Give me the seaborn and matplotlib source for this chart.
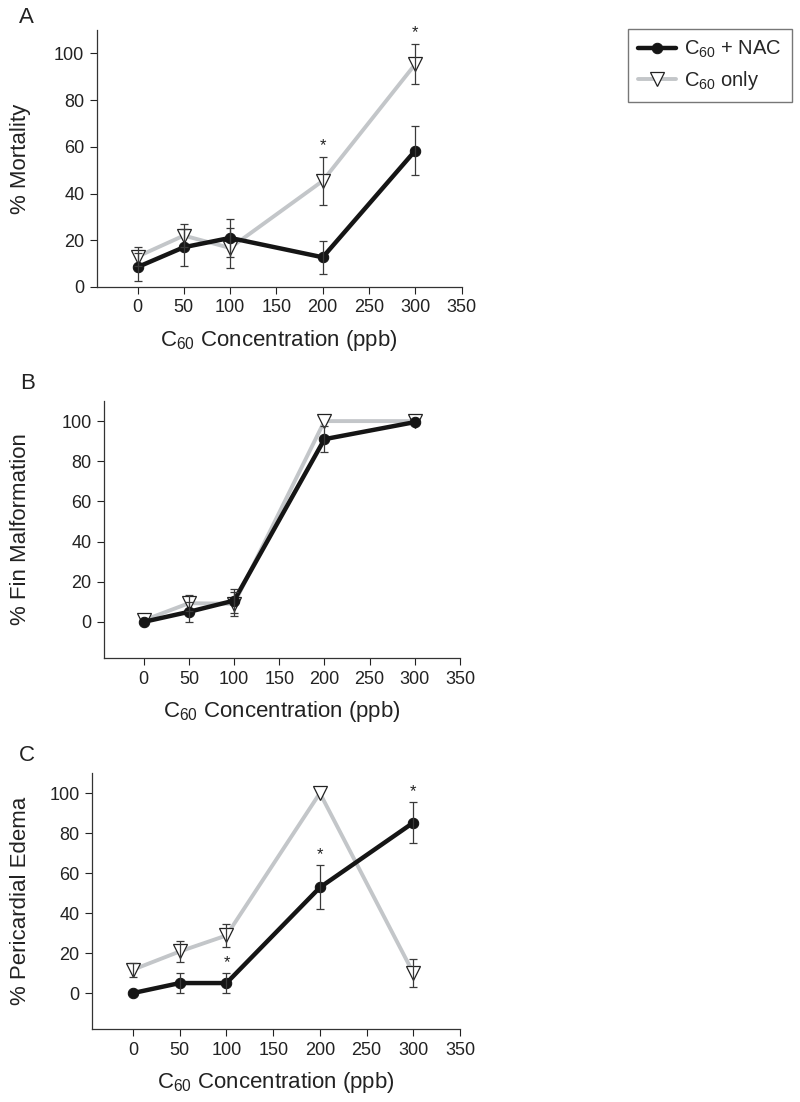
import matplotlib.pyplot as plt
import seaborn as sns
import pandas as pd
import numpy as np

sns.set_style('ticks')
plt.rcParams['font.family'] = ['Liberation Sans', 'DejaVu Sans']
plt.rcParams['mathtext.fontset'] = 'custom'
plt.rcParams['mathtext.rm'] = 'Liberation Sans'
plt.rcParams['mathtext.default'] = 'regular'

conc = [0, 50, 100, 200, 300]

# Panel A - mortality
mort_nac = [8.5, 17, 21, 12.7, 58.4]
mort_nac_err = [6, 8, 8.3, 7, 10.3]
mort_only = [13, 22, 16.7, 45.4, 95.4]
mort_only_err = [4, 5, 8.7, 10.4, 8.7]
mort_star_nac = [False, False, False, False, False]
mort_star_only = [False, False, False, True, True]

# Panel B - fin malformation
fin_nac = [0, 5, 10.6, 91, 99.5]
fin_nac_err = [0, 5, 6, 6.5, 0]
fin_only = [0.8, 9.3, 9, 100, 100]
fin_only_err = [0, 4, 6, 0, 0]
fin_star_nac = [False] * 5
fin_star_only = [False] * 5

# Panel C - pericardial edema
ede_nac = [0, 5, 5, 52.8, 85.2]
ede_nac_err = [0, 5, 5, 11, 10.4]
ede_only = [11.7, 20.8, 28.8, 100, 10]
ede_only_err = [3.5, 5.2, 5.7, 0, 7.2]
ede_star_nac = [False, False, True, True, True]
ede_star_only = [False] * 5

BLACK = '#151515'
GREY = '#c3c6c9'
ERR = '#3a3a3a'

fig = plt.figure(figsize=(8, 11.02), dpi=100)

panels = [
    ('A', '% Mortality', [0.121, 0.7396, 0.456, 0.2332], (0, 110),
     mort_nac, mort_nac_err, mort_only, mort_only_err, mort_star_nac, mort_star_only, (19, 7)),
    ('B', '% Fin Malformation', [0.130, 0.4029, 0.445, 0.2332], (-18, 110),
     fin_nac, fin_nac_err, fin_only, fin_only_err, fin_star_nac, fin_star_only, (20, 373)),
    ('C', '% Pericardial Edema', [0.115, 0.0662, 0.460, 0.2323], (-18, 110),
     ede_nac, ede_nac_err, ede_only, ede_only_err, ede_star_nac, ede_star_only, (19, 745)),
]

handles = None
for letter, ylab, pos, ylim, nac, nac_e, only, only_e, st_nac, st_only, lpos in panels:
    ax = fig.add_axes(pos)
    df_nac = pd.DataFrame({'conc': conc, 'pct': nac})
    df_only = pd.DataFrame({'conc': conc, 'pct': only})

    sns.lineplot(data=df_only, x='conc', y='pct', ax=ax, color=GREY, lw=2.8,
                 marker='v', markersize=9.5, markerfacecolor='white',
                 markeredgecolor='#222222', markeredgewidth=0.9, zorder=2,
                 label='C$_{60}$ only')
    sns.lineplot(data=df_nac, x='conc', y='pct', ax=ax, color=BLACK, lw=3.2,
                 marker='o', markersize=7.5, markerfacecolor=BLACK,
                 markeredgecolor=BLACK, zorder=3, label='C$_{60}$ + NAC')

    for vals, errs in [(only, only_e), (nac, nac_e)]:
        e = np.array(errs)
        ax.errorbar(conc, vals, yerr=np.where(e > 0, e, np.nan), fmt='none',
                    ecolor=ERR, elinewidth=0.9, capsize=3, capthick=0.9, zorder=4)

    for vals, errs, stars in [(only, only_e, st_only), (nac, nac_e, st_nac)]:
        for x, v, e, s in zip(conc, vals, errs, stars):
            if s:
                ax.text(x, v + e + 1.5, '*', ha='center', va='bottom',
                        fontsize=12, color='#222222')

    ax.set_xlim(-44, 350)
    ax.set_ylim(*ylim)
    ax.set_xticks([0, 50, 100, 150, 200, 250, 300, 350])
    ax.set_yticks([0, 20, 40, 60, 80, 100])
    ax.tick_params(labelsize=13, colors='#222222', length=5, width=0.8, pad=4)
    for sp in ['left', 'bottom']:
        ax.spines[sp].set_color('#333333')
        ax.spines[sp].set_linewidth(0.9)
    sns.despine(ax=ax)
    ax.set_xlabel('C$_{60}$ Concentration (ppb)', fontsize=16, labelpad=8, color='#222222')
    ax.set_ylabel(ylab, fontsize=16, color='#222222')
    # all y labels share the same left margin in the reference
    ax.yaxis.set_label_coords(0.039, pos[1] + pos[3] / 2, transform=fig.transFigure)
    fig.text(lpos[0] / 800, 1 - lpos[1] / 1102, letter, ha='left', va='top',
             fontsize=16, color='#222222')

    h, l = ax.get_legend_handles_labels()
    ax.legend_.remove()
    if handles is None:
        handles = (h[::-1], l[::-1])

fig.legend(handles[0], handles[1], loc='upper right', bbox_to_anchor=(0.99, 0.9737),
           borderaxespad=0, fontsize=14.5, frameon=True, fancybox=False,
           edgecolor='#555555', handlelength=1.9, handletextpad=0.4,
           borderpad=0.5, labelspacing=0.45)

plt.savefig('out.png', dpi=100)
